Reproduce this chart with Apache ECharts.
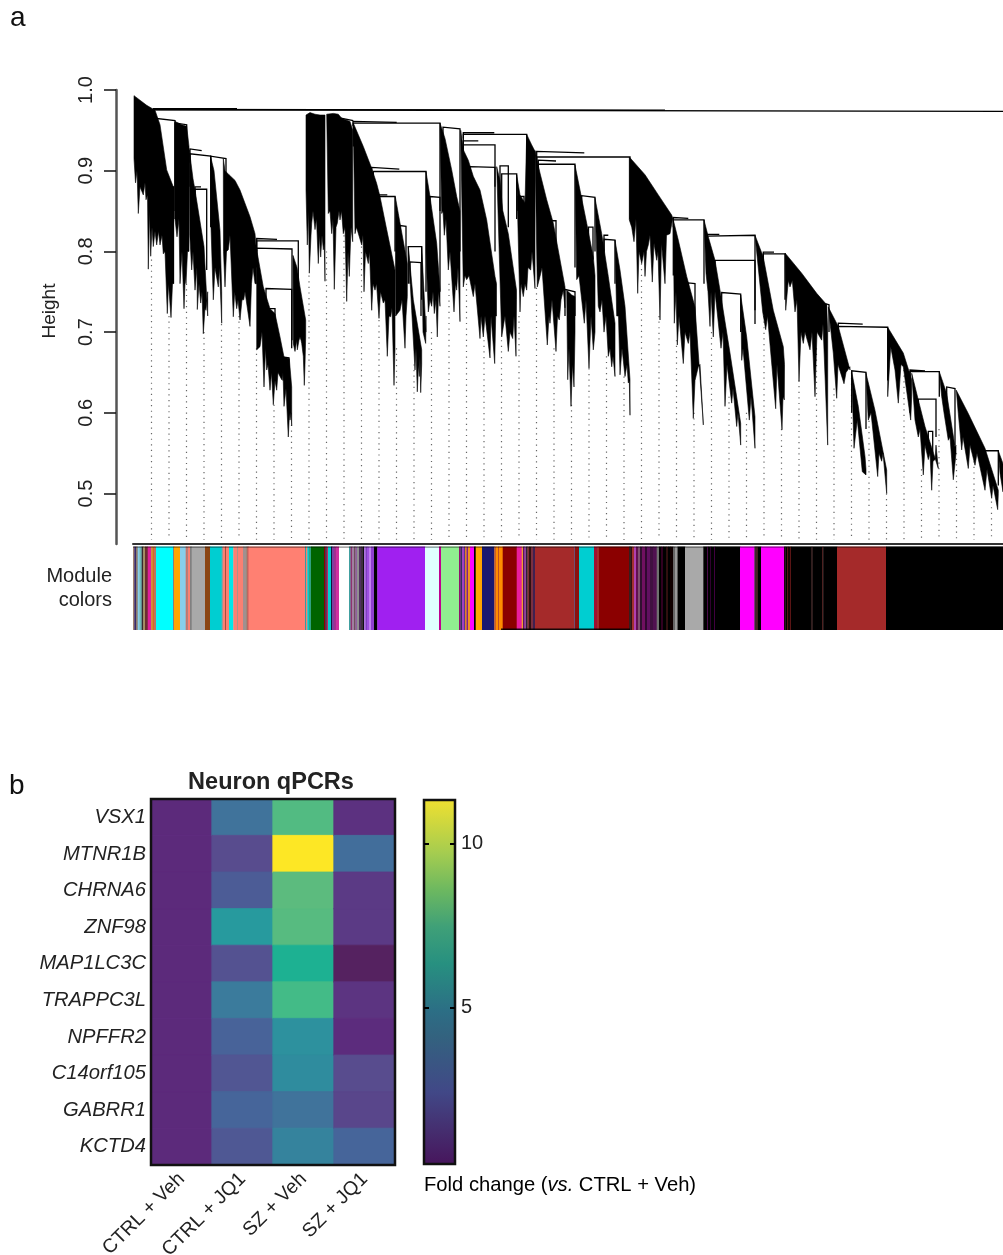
<!DOCTYPE html>
<html><head><meta charset="utf-8">
<script src="https://cdn.jsdelivr.net/npm/echarts@6/dist/echarts.min.js"></script>
<style>html,body{margin:0;padding:0;background:#fff}#c{width:1003px;height:1255px}</style>
</head><body><div id="c"></div>
<script>
// ---------- panel a: dendrogram (x = gene order, y = height); flat x,h lists ----------
const heightTicks = [0.5,0.6,0.7,0.8,0.9,1.0];
const cladeTop = [
 [1,.993,13.7,.981,22,.975,27,.957,33.7,.901,40.3,.880],
 [42,.961,48.7,.957,53.7,.955,56,.93],
 [56.3,.926,60,.89,62,.876,71,.806,74.7,.72],
 [77.7,.917,81,.90,87,.826,88.7,.75],
 [90.3,.915,92,.90,96,.895,102,.888,107,.876,117,.843,122,.822,123.5,.80],
 [123.7,.802,130.3,.756,137,.729,142,.723,147,.694,151,.669,156.3,.667,158.7,.632],
 [160,.795,164,.78,167,.756,172.7,.715],
 [173,.969,177,.972,182,.970,187,.969,192,.969],
 [193.7,.97,200.3,.971,205.3,.970,208.7,.965,217,.961,219.7,.95],
 [220.3,.959,230.3,.93,238.7,.903,243.7,.884,247,.868,253.7,.827,262,.777],
 [262.3,.868,265.3,.847,274.3,.785],
 [275.3,.806,280.3,.74,288.7,.678],
 [288.7,.806,293,.70],
 [293,.899,297,.868,298.7,.853,303.7,.81,307,.752],
 [307,.959,312,.94,318.7,.901,323.7,.868,327,.85],
 [327.7,.95,330.3,.926,335.3,.913,340.3,.893,347,.876,353.7,.839,362,.769,363.5,.76],
 [363.7,.905,367,.888,369.7,.851,375.3,.822,383.5,.752],
 [383.7,.895,387,.87,392,.86,393.7,.945,398.7,.932,402,.924],
 [402,.925,407,.897,413.7,.864,420.3,.835,432,.756],
 [433.7,.752,438.7,.746,442,.744],
 [442,.907,447,.876,453.7,.835,460.3,.793,462,.77],
 [462,.866,468.7,.822,475.3,.769,482,.711],
 [482,.814,487,.777,492,.732,497,.641],
 [496.3,.917,512,.895,525.3,.87,538.7,.845,540.3,.839],
 [540.3,.839,545.3,.814,553.7,.769,562,.731,570.3,.587],
 [571,.839,575.3,.818,582,.789,587,.752,597,.674,607.7,.587],
 [607.7,.746,613.7,.694,622,.595],
 [622,.82,630.3,.793,640.3,.727,650.3,.682,651.5,.66],
 [652,.798,668.7,.773,683.7,.748,693.7,.734,694.7,.70],
 [695.3,.731,705.3,.707,717,.653],
 [718.7,.651,725.3,.608,732,.546,733,.53],
 [733,.649,742,.603,753.7,.529],
 [754.7,.706,770.3,.674,778.7,.641],
 [778.7,.649,785.3,.616,792,.583,805.3,.531],
 [806.3,.651,813.7,.624,822,.558,823,.56],
 [823.3,.628,835.3,.599,852,.556,865.3,.504],
 [865.3,.553,870,.537]
];
const cladeBottom = [
 [1,.915,2.5,.885,4,.90,5.3,.847,7,.88,10.3,.87,12,.885,13,.864,14.5,.87,15.3,.778,16.5,.85,17.7,.794,19,.83,20.3,.806,22,.825,23.7,.808,25.5,.825,27,.808,29,.82,30.3,.797,32,.80,34.3,.723,35.5,.76,38,.718,39.5,.76,40.3,.76],
 [42,.84,44,.818,46,.84,47,.76,49,.80,51,.729,52.3,.77,53,.76,54.5,.80,56,.80],
 [56.8,.82,58.7,.777,60,.80,62,.752,64,.78,64.3,.728,66,.76,67.7,.736,69,.75,70.3,.698,72,.73,73,.727,74.7,.75],
 [78,.83,80.3,.74,82,.78,85.3,.756,86.5,.78,88.7,.711],
 [90.5,.80,92,.756,93.5,.80,95.3,.802,97,.82,100.3,.719,101.7,.75,103.7,.729,105,.74,107,.715,109,.74,110.7,.74,112,.75,117,.707,118.5,.76,120,.78,122,.76,123.5,.76],
 [123.7,.678,127,.682,129,.70,131,.632,132.5,.68,133.7,.653,135,.66,137,.628,138.5,.65,140.3,.61,142,.64,143.7,.628,145,.65,148.7,.641,150,.65,151,.608,153,.63,155.3,.57,156.5,.60,157,.591,158,.60,158.7,.584],
 [160.3,.686,162,.676,163.7,.69,164.3,.678,166,.69,167,.694,168,.69,168.7,.686,170.3,.67,171.3,.634,172,.66,172.7,.694],
 [173,.876,174.3,.808,175.5,.85,176.3,.773,178,.82,178.7,.835,180,.85,182,.827,183.5,.84,185.3,.785,186.5,.82,187.7,.793,189,.82,190.3,.802,191.2,.81,192,.763],
 [195.3,.847,197,.85,198.7,.822,200,.84,201.3,.753,203,.83,204.3,.835,206,.85,207,.839,208.5,.85,210.3,.822,212,.83,213.7,.738,215,.80,216.3,.769,218,.83,219.7,.812],
 [222,.822,223.5,.83,228.7,.808,230,.82,231,.75,232.5,.80,235.3,.785,236.5,.80,238.7,.727,240,.76,242,.752,243.5,.76,246,.717,247.5,.75,250.3,.736,252,.74,254.3,.67,256,.72,257.7,.719,259,.73,261,.634,262,.68],
 [262.7,.72,267,.727,269,.74,272,.68,273,.72,274.3,.744],
 [278.7,.727,282,.653,283,.68,284.3,.626,285.5,.66,286.3,.645,287,.67,287.7,.625,288.7,.66],
 [290,.70,292.7,.686,293,.72],
 [293,.80,295.3,.725,297,.74,298.7,.732,300,.75,301.3,.723,303,.74,304.3,.694,305.5,.75,307,.732],
 [308.7,.847,310,.85,311.3,.82,313,.84,315.3,.777,317,.80,321,.725,322.5,.76,323.7,.752,325,.78,327,.713],
 [330.3,.756,332,.77,333.7,.765,336,.77,340.3,.744,342,.76,347,.692,348,.72,350.3,.694,352,.72,357,.668,358,.72,361.7,.661,362.7,.72,363.5,.72],
 [368.7,.694,372,.72,375.3,.676,377,.70,379.7,.692,381,.72,383,.67,383.5,.74],
 [387,.725,388,.76,390.3,.744,392,.76,393.7,.752,395,.78,397.7,.777,399,.80,402,.754],
 [404.3,.756,407,.769,409,.78,414.3,.684,416,.72,417,.711,419,.74,423,.676,424.5,.72,426.3,.715,428,.74,430.3,.752,432,.73],
 [434.7,.641,436,.68,438,.608,439.5,.66,441,.632,442,.70],
 [443.7,.765,446,.77,451.3,.711,453,.74,456,.655,458,.72,460.3,.678,462,.70],
 [465.3,.732,467,.725,469,.74,471,.70,473,.72,475.3,.67,477,.68,478.7,.657,480,.67,482,.645],
 [483.7,.72,485.5,.72,487,.647,489,.68,492,.645,494,.66,495.3,.637,496.3,.64,497,.597],
 [496.3,.839,498.7,.83,501,.812,503,.84,504.7,.748,506,.80,508.7,.785,511,.80,512,.769,513.5,.80,515.3,.808,517,.82,519.3,.762,521,.81,523.7,.789,525,.80,527,.715,528.5,.81,532,.76,533.5,.82,537,.822,539.7,.841],
 [541.3,.711,543,.75,544.3,.684,546,.72,550.3,.661,552,.70,555.3,.686,557,.70,560.3,.593,562,.64,565.3,.657,567,.66,570.3,.585],
 [573,.773,575,.75,577,.707,578,.75,580.3,.694,582,.75,588,.68,590,.70,592,.608,594,.66,598.7,.612,600,.63,603.7,.583,605,.60,607.7,.56],
 [608.7,.665,610,.68,616.3,.591,618,.62,622,.556],
 [629.7,.725,632.7,.703,634.5,.72,642.7,.605,644,.66,649,.579,650,.62,651.3,.616],
 [652.7,.727,655.3,.764,657,.756,659.3,.764,662,.725,664,.74,666,.639,668,.70,670.3,.686,672,.70,677,.678,679,.70,682,.62,684,.70,688.7,.69,690,.71,694.7,.56],
 [700.3,.674,703.7,.618,705,.66,711,.636,713,.65,717,.657],
 [721,.556,724.3,.591,729.3,.527,733,.523],
 [735.3,.591,738,.60,744.7,.521,746,.55,748.7,.54,750,.55,753.7,.50],
 [754.7,.62,757.7,.682,762,.653,765.3,.612,768,.66,770.3,.657,777.7,.591,778.7,.62],
 [782,.591,785.3,.57,787,.58,790.3,.523,792,.56,795.3,.542,797,.55,798.7,.504,800,.54,802,.542,803,.56,805.3,.531],
 [808.7,.62,811,.60,815.3,.566,817,.57,820.3,.517,823,.55],
 [825.3,.599,828.7,.554,830,.57,835.3,.531,837,.56,842,.535,844,.55,852,.504,854,.53,858.7,.494,860,.51,864.7,.48,865.3,.50],
 [867,.525,870,.502]
];
// each link: x left, h left, x right, h right, lower end of left drop, lower end of right drop
const dendroLinks = [
 [20,.977,104,.977,.977,.977],[20,.976,532,.975,.972,.975],[20,.9755,870,.9735,.9755,.9735],
 [22,.965,42,.962,.95,.85],[42,.959,53.7,.957,.84,.926],[57,.927,68.7,.925,.91,.925],
 [57,.921,77.7,.918,.88,.83],[77.7,.918,93,.915,.90,.80],[33,.88,40.5,.88,.85,.76],
 [62,.88,68,.88,.87,.88],[62,.877,73.7,.877,.85,.777],[123.7,.816,144,.815,.80,.815],
 [123.7,.813,165.3,.813,.79,.756],[123.7,.804,159,.803,.78,.69],[133,.754,158.7,.753,.73,.68],
 [136,.729,142,.729,.70,.70],[150,.669,156,.668,.64,.62],
 [208.7,.965,220.3,.962,.96,.962],[220,.961,263.7,.96,.955,.96],[220.3,.959,307,.959,.93,.85],
 [238.7,.904,266.3,.902,.89,.902],[240.3,.899,293,.899,.85,.75],[246,.87,254.3,.87,.85,.87],
 [246,.868,262,.868,.83,.80],[267,.832,273,.831,.79,.78],[275.3,.806,288.7,.806,.76,.74],
 [277,.787,288,.786,.76,.72],[297,.868,307,.867,.80,.75],[310,.954,327,.952,.90,.80],
 [330.3,.947,361.3,.947,.94,.947],[330.3,.945,393.7,.945,.90,.80],[330.3,.937,345.3,.937,.93,.937],
 [330.3,.932,362,.932,.88,.88],[337,.905,362,.904,.87,.80],[367,.906,375.3,.906,.87,.83],
 [368.7,.896,383.7,.896,.85,.84],[385,.868,391,.868,.85,.85],
 [403.7,.924,451.3,.922,.91,.922],[403.7,.917,497,.917,.88,.84],[405.3,.913,423,.912,.90,.912],
 [405.3,.908,442,.908,.82,.78],[448.7,.869,462,.867,.83,.80],[455.5,.83,460,.83,.80,.79],
 [471,.82,475.3,.82,.80,.82],[471,.815,482,.814,.77,.76],[412,.838,423,.838,.78,.79],[432,.753,442,.75,.72,.72],
 [540.3,.842,555.3,.841,.83,.841],[540.3,.839,571,.839,.77,.76],[555.3,.761,562,.76,.72,.71],
 [574.3,.821,586.3,.821,.80,.821],[574.3,.819,622,.82,.78,.71],[582,.789,622,.789,.76,.727],
 [588.7,.749,607.7,.747,.71,.70],[630.3,.799,641,.799,.79,.799],[630.3,.797,652,.797,.76,.74],
 [693,.735,696,.734,.70,.70],[705.3,.711,729.7,.71,.70,.71],[705.3,.707,754.7,.706,.66,.64],
 [718.7,.652,733,.65,.60,.58],[777,.653,792,.652,.64,.652],[777,.651,806.3,.651,.60,.62],
 [785.3,.617,803,.617,.58,.57],[795.3,.577,799.7,.577,.56,.55],[813.7,.632,822,.63,.60,.56],[852,.553,865.3,.553,.52,.51]
];
// dotted guides: x, height where the dots begin
const guides = [[18.5,.79],[36,.72],[53.5,.76],[71,.70],[88.5,.71],[106,.72],[123.5,.68],[141,.61],[158.5,.585],[176,.77],[193.5,.80],[211,.82],[228.5,.806],[246,.715],[263.5,.68],[281,.66],[298.5,.70],[316,.76],[333.5,.76],[351,.69],[368.5,.69],[386,.72],[403.5,.755],[421,.68],[438.5,.61],[456,.655],[473.5,.67],[491,.645],[508.5,.785],[526,.72],[543.5,.69],[561,.60],[578.5,.70],[596,.62],[613.5,.60],[631,.72],[648.5,.58],[666,.64],[683.5,.68],[701,.63],[718.5,.65],[736,.59],[753.5,.50],[771,.66],[788.5,.53],[806,.58],[823.5,.55],[841,.54],[858.5,.49]];
// module colours: end of each run in gene order, colour
const moduleRuns = [
 [1.3,'#a08070'],[3,'#3a2a6a'],[4.7,'#8a7a70'],[6.3,'#87ceeb'],[8.7,'#6fb8b8'],[10.3,'#3a2a2a'],[12,'#a89060'],[14.7,'#6a3030'],[18,'#e0209a'],[19.7,'#d09040'],[21,'#d07020'],[23,'#c07060'],
 [40.3,'#00ffff'],[41,'#a04040'],[47,'#ffa500'],[52.7,'#87ceeb'],[53.7,'#d07060'],[55,'#b08080'],[57,'#fa8072'],[58.7,'#808080'],[72,'#a9a9a9'],[77,'#8b4513'],[88.7,'#00ced1'],
 [90,'#999999'],[92,'#fa8072'],[93,'#a05040'],[96,'#fa8072'],[100.3,'#00e8e8'],[104,'#fa8072'],[105,'#b09088'],[110,'#fa8072'],[113,'#a09090'],[114.5,'#a08878'],[115.5,'#c03030'],[172,'#ff8072'],
 [173,'#30a0a0'],[174.3,'#f08070'],[176,'#00c8c8'],[178,'#30a080'],[191,'#006400'],[192,'#8b0000'],[193.7,'#503050'],[195,'#b03060'],[198,'#00d0d0'],[199,'#181040'],[201,'#8040a0'],[203,'#a03090'],[206,'#d030a0'],[216,'#ffffff'],
 [217.5,'#40a0a0'],[219,'#903070'],[221,'#a080a0'],[222.5,'#705060'],[224,'#9060a0'],[226,'#909090'],[228,'#503060'],[230,'#403040'],[231,'#101010'],[232.5,'#b070e0'],[234,'#8040c0'],[236,'#a050e0'],[238,'#c080f0'],[241,'#9040d0'],[244.3,'#000000'],
 [292,'#a020f0'],[306,'#e0ffff'],[308,'#c00090'],[326,'#90ee90'],[327.5,'#901070'],[329,'#303060'],[331,'#a040c0'],[332,'#603090'],[333.5,'#e08020'],[335,'#802080'],[337,'#f09020'],[341,'#ff00ff'],[342.7,'#000000'],[349,'#ffa500'],[361.3,'#191970'],
 [363,'#d06020'],[365,'#ff8c00'],[366,'#c05020'],[369.7,'#ff8c00'],[383.7,'#8b0000'],[388.7,'#e91e9c'],[390,'#f0a030'],[391.5,'#601060'],[393,'#9040a0'],[394.5,'#302030'],[396,'#803030'],[398,'#301010'],[400,'#7a3040'],[402,'#402050'],
 [441,'#a52a2a'],[442,'#705070'],[446,'#8b1010'],[461,'#00ced1'],[464,'#a01030'],[465.5,'#a52a2a'],[496.3,'#8b0000'],
 [497.5,'#000000'],[499,'#301010'],[501,'#a03030'],[503,'#b040b0'],[505,'#601050'],[507,'#805070'],[509,'#301030'],[512,'#701060'],[514,'#300830'],[517,'#601060'],[520,'#401040'],[523.7,'#501050'],[526,'#707070'],[528,'#000000'],[530,'#300020'],[533,'#000000'],[535,'#301010'],[537,'#000000'],[540,'#100000'],[542,'#666666'],[544.5,'#999999'],[552,'#000000'],[570.3,'#a9a9a9'],
 [574,'#000000'],[575,'#4a0a4a'],[577,'#000000'],[578,'#300030'],[581,'#000000'],[582,'#400040'],[607,'#000000'],[621.3,'#ff00ff'],[622.5,'#502040'],[623.5,'#000000'],[624.5,'#601010'],[628,'#000000'],[651,'#ff00ff'],
 [652.5,'#200010'],[654,'#000000'],[655,'#5a1515'],[657,'#1a0505'],[658,'#5a1515'],[678.5,'#000000'],[679.5,'#300808'],[689.2,'#000000'],[690.2,'#400808'],[704,'#000000'],[753,'#a52a2a'],[870,'#000000']
];
// ---------- panel b: heatmap ----------
const genes = ['VSX1','MTNR1B','CHRNA6','ZNF98','MAP1LC3C','TRAPPC3L','NPFFR2','C14orf105','GABRR1','KCTD4'];
const conditions = ['CTRL + Veh','CTRL + JQ1','SZ + Veh','SZ + JQ1'];
const ctrlVeh = [1,1,1,1,1,1,1,1,1,1];
const ctrlJq1 = [4.4,2.3,3.1,5.6,2.6,4.7,3.4,2.8,3.5,2.9];
const szVeh   = [7.9,11.34,8.1,8.0,6.9,7.6,5.4,5.3,4.4,5.0];
const szJq1   = [1.4,4.1,1.7,1.7,0.6,1.5,1.1,2.3,2.1,3.5];
const foldTicks = [5,10];
const foldMin = 0.24, foldMax = 11.34;
const cellStops = [[0.24,'#43155a'],[0.6,'#56225f'],[1,'#5c2a7c'],[1.4,'#5c3180'],[2.3,'#584c8e'],[3.5,'#46659a'],[4.4,'#40739b'],[5.3,'#2f8c9e'],[5.6,'#279a9e'],[6.9,'#1db192'],[7.6,'#43bb87'],[8.1,'#5cbb7e'],[10,'#a5d049'],[11.34,'#fde725']];
const barStops = [[0,'#47155c'],[.1,'#452f70'],[.2,'#414887'],[.35,'#33627f'],[.42,'#2c6e85'],[.55,'#279080'],[.65,'#3fa078'],[.75,'#6cb860'],[.85,'#a4cc50'],[1,'#f0e030']];

const hex = c => [1,3,5].map(i => parseInt(c.substr(i,2),16));
function cellColor(v){
  for(let i=1;i<cellStops.length;i++){
    if(v<=cellStops[i][0]){
      const [a,ca]=cellStops[i-1],[b,cb]=cellStops[i],t=(v-a)/(b-a),A=hex(ca),B=hex(cb);
      return 'rgb('+A.map((x,k)=>Math.round(x+(B[k]-x)*t)).join(',')+')';
    }
  }
  return cellStops[cellStops.length-1][1];
}
const ramp=[];for(let i=0;i<=222;i++)ramp.push(cellColor(foldMin+(foldMax-foldMin)*i/222));
const heatData=[];
[ctrlVeh,ctrlJq1,szVeh,szJq1].forEach((col,c)=>col.forEach((v,r)=>heatData.push({value:[c,r,v],itemStyle:{borderColor:cellColor(v),borderWidth:.7}})));

const pairs = f => {const o=[];for(let i=0;i<f.length;i+=2)o.push([f[i],f[i+1]]);return o;};
const TXT='"Liberation Sans",Arial,sans-serif', INK='#222';
const yBase=1-454/807;

const chart=echarts.init(document.getElementById('c'),null,{renderer:'canvas'});
chart.setOption({
 animation:false,backgroundColor:'#fff',
 title:{text:'Neuron qPCRs',left:266,top:766,textAlign:'center',textStyle:{fontFamily:TXT,fontSize:23.5,fontWeight:'bold',color:INK}},
 grid:[
  {left:133,top:90,width:870,height:454,outerBoundsMode:'none'},
  {left:133,top:546.5,width:870,height:83.5,outerBoundsMode:'none'},
  {left:151,top:799,width:244,height:366,outerBoundsMode:'none'},
  {left:424,top:800,width:31,height:364,outerBoundsMode:'none'}
 ],
 xAxis:[
  {gridIndex:0,type:'value',min:0,max:870,axisLine:{show:true,onZero:false,lineStyle:{color:'#333',width:2}},axisTick:{show:false},axisLabel:{show:false},splitLine:{show:false}},
  {gridIndex:1,type:'value',min:0,max:870,show:false},
  {gridIndex:2,type:'category',data:conditions,axisLine:{show:false},axisTick:{show:false},axisLabel:{rotate:45,margin:11,interval:0,padding:[12,0,0,0],fontFamily:TXT,fontSize:19.5,color:INK}},
  {gridIndex:3,type:'value',min:0,max:1,show:false}
 ],
 yAxis:[
  {gridIndex:0,type:'value',min:yBase,max:1,position:'left',offset:17,
   axisLine:{show:true,onZero:false,lineStyle:{color:'#555',width:2.5}},
   axisTick:{show:true,length:12,customValues:heightTicks,lineStyle:{color:'#111',width:1.5}},
   axisLabel:{show:true,customValues:heightTicks,rotate:90,margin:20,fontFamily:TXT,fontSize:20,color:INK,formatter:v=>v.toFixed(1)},
   splitLine:{show:false}},
  {gridIndex:1,type:'value',min:0,max:1,show:false},
  {gridIndex:2,type:'category',inverse:true,data:genes,axisLine:{show:false},axisTick:{show:false},axisLabel:{margin:5,interval:0,fontFamily:TXT,fontSize:20.2,fontStyle:'italic',color:INK}},
  {gridIndex:3,type:'value',min:foldMin,max:foldMax,position:'left',z:10,axisLine:{show:false,onZero:false},axisTick:{inside:true,length:5,customValues:foldTicks,lineStyle:{color:'#000',width:2}},axisLabel:{show:false},splitLine:{show:false}},
  {gridIndex:3,type:'value',min:foldMin,max:foldMax,position:'right',z:10,axisLine:{show:false,onZero:false},axisTick:{inside:true,length:5,customValues:foldTicks,lineStyle:{color:'#000',width:2}},axisLabel:{show:true,customValues:foldTicks,margin:6,fontFamily:TXT,fontSize:20,color:INK},splitLine:{show:false}}
 ],
 visualMap:[{show:false,type:'continuous',seriesIndex:5,min:foldMin,max:foldMax,dimension:2,inRange:{color:ramp}}],
 series:[
  {type:'custom',xAxisIndex:0,yAxisIndex:0,silent:true,z:1,data:guides,encode:{x:0,y:1},
   renderItem:(p,api)=>{const a=api.coord([api.value(0),api.value(1)]),b=api.coord([api.value(0),yBase+.005]);
     return {type:'line',shape:{x1:a[0],y1:a[1],x2:b[0],y2:b[1]},style:{stroke:'#666',lineWidth:1.2,lineDash:[1.2,4.4]}};}},
  {type:'custom',xAxisIndex:0,yAxisIndex:0,silent:true,z:3,data:cladeTop.map(t=>[t[0],t[1]]),encode:{x:0,y:1},
   renderItem:(p,api)=>{const pts=pairs(cladeTop[p.dataIndex]).concat(pairs(cladeBottom[p.dataIndex]).reverse()).map(q=>api.coord(q));
     return {type:'polygon',shape:{points:pts},style:{fill:'#000',stroke:'#000',lineWidth:.6}};}},
  {type:'custom',xAxisIndex:0,yAxisIndex:0,silent:true,z:4,data:dendroLinks.map(l=>[l[0],l[1]]),encode:{x:0,y:1},
   renderItem:(p,api)=>{const l=dendroLinks[p.dataIndex];
     const pts=[[l[0],l[4]],[l[0],l[1]],[l[2],l[3]],[l[2],l[5]]].map(q=>api.coord(q));
     return {type:'polyline',shape:{points:pts},style:{fill:null,stroke:'#000',lineWidth:1.3}};}},
  {type:'custom',xAxisIndex:1,yAxisIndex:1,silent:true,data:moduleRuns.map(r=>[r[0],1]),encode:{x:0,y:1},
   renderItem:(p,api)=>{const r=moduleRuns[p.dataIndex],s=p.dataIndex?moduleRuns[p.dataIndex-1][0]:0;
     const a=api.coord([s,1]),b=api.coord([r[0],0]);
     return {type:'rect',shape:{x:a[0],y:a[1],width:b[0]-a[0]+.3,height:b[1]-a[1]},style:{fill:r[1]}};}},
  {type:'custom',xAxisIndex:1,yAxisIndex:1,silent:true,z:5,data:[[0,870,.985,1,.45],[368,497,0,.018,.85]],encode:{x:0,y:2},
   renderItem:(p,api)=>{const a=api.coord([api.value(0),api.value(3)]),b=api.coord([api.value(1),api.value(2)]);
     return {type:'rect',shape:{x:a[0],y:a[1],width:b[0]-a[0],height:b[1]-a[1]},style:{fill:'rgba(0,0,0,'+api.value(4)+')'}};}},
  {type:'heatmap',xAxisIndex:2,yAxisIndex:2,data:heatData,silent:true},
  {type:'custom',xAxisIndex:2,yAxisIndex:2,silent:true,z:6,data:[[0,0]],encode:{x:0,y:1},
   renderItem:(p)=>({type:'rect',shape:{x:p.coordSys.x,y:p.coordSys.y,width:p.coordSys.width,height:p.coordSys.height},style:{fill:null,stroke:'#111',lineWidth:2.5}})},
  {type:'custom',xAxisIndex:3,yAxisIndex:3,silent:true,z:2,data:[[0,foldMax,1,foldMin]],encode:{x:0,y:1},
   renderItem:(p,api)=>{const a=api.coord([api.value(0),api.value(1)]),b=api.coord([api.value(2),api.value(3)]);
     return {type:'rect',shape:{x:a[0],y:a[1],width:b[0]-a[0],height:b[1]-a[1]},
       style:{stroke:'#111',lineWidth:2.5,fill:new echarts.graphic.LinearGradient(0,1,0,0,barStops.map(s=>({offset:s[0],color:s[1]})))}};}}
 ],
 graphic:[
  {type:'text',left:10,top:4,style:{text:'a',fontFamily:TXT,fontSize:28,fill:'#111'}},
  {type:'text',left:9,top:772,style:{text:'b',fontFamily:TXT,fontSize:28,fill:'#111'}},
  {type:'text',x:50,y:311,rotation:Math.PI/2,style:{text:'Height',fontFamily:TXT,fontSize:19,fill:INK,align:'center',verticalAlign:'middle'}},
  {type:'text',x:112,y:576,style:{text:'Module',fontFamily:TXT,fontSize:20,fill:INK,align:'right',verticalAlign:'middle'}},
  {type:'text',x:112,y:600,style:{text:'colors',fontFamily:TXT,fontSize:20,fill:INK,align:'right',verticalAlign:'middle'}},
  {type:'text',x:424,y:1185,style:{text:'{a|Fold change (}{b|vs.}{a| CTRL + Veh)}',verticalAlign:'middle',rich:{a:{fontFamily:TXT,fontSize:20.2,color:INK},b:{fontFamily:TXT,fontSize:20.2,fontStyle:'italic',color:INK}}}}
 ]
});
</script></body></html>
